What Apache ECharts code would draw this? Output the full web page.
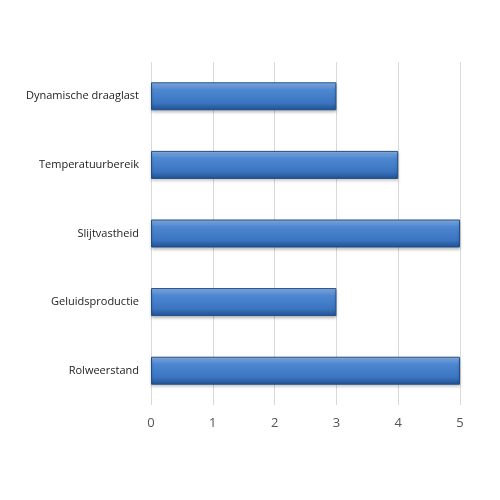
<!DOCTYPE html>
<html><head><meta charset="utf-8">
<script src="https://cdn.jsdelivr.net/npm/echarts@6/dist/echarts.min.js"></script>
<style>html,body{margin:0;background:#fff}#c{width:500px;height:500px}</style>
</head><body><div id="c"></div>
<script>
// categories listed bottom to top (ECharts category axis order)
const categories = ['Rolweerstand', 'Geluidsproductie', 'Slijtvastheid', 'Temperatuurbereik', 'Dynamische draaglast'];
const values = [5, 3, 5, 4, 3];

const chart = echarts.init(document.getElementById('c'), null, { renderer: 'canvas' });
chart.setOption({
  animation: false,
  grid: { left: 151, right: 40, top: 62, bottom: 95 },
  xAxis: {
    type: 'value', min: 0, max: 5, interval: 1,
    axisLine: { show: false }, axisTick: { show: false },
    splitLine: { lineStyle: { color: '#d9d9d9' } },
    axisLabel: { color: '#555', fontSize: 13, fontFamily: 'Open Sans', margin: 12 }
  },
  yAxis: {
    type: 'category', data: categories,
    axisLine: { show: false }, axisTick: { show: false },
    axisLabel: { color: '#222', fontSize: 11, fontFamily: 'Open Sans', margin: 12 }
  },
  series: [{
    type: 'bar', data: values, barWidth: 28,
    itemStyle: {
      borderColor: '#1f4e8c', borderWidth: 1,
      color: new echarts.graphic.LinearGradient(0, 0, 0, 1, [
        { offset: 0, color: '#8fb6e8' },
        { offset: 0.25, color: '#4f88d2' },
        { offset: 0.75, color: '#3a73bf' },
        { offset: 1, color: '#214f8f' }
      ]),
      shadowColor: 'rgba(0,0,0,0.25)', shadowBlur: 3, shadowOffsetY: 2
    }
  }]
});
</script></body></html>
